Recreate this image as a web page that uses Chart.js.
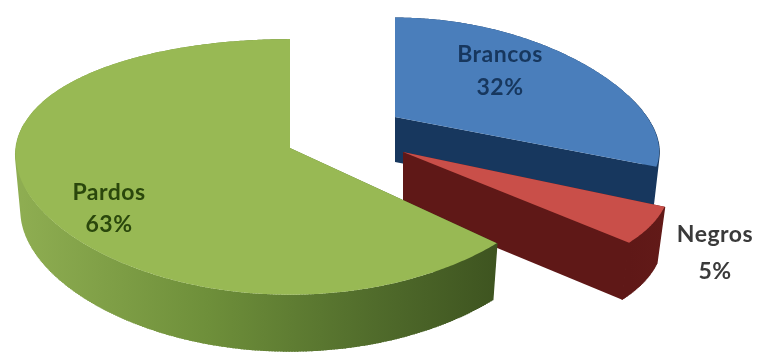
<!DOCTYPE html>
<html lang="pt">
<head>
<meta charset="utf-8">
<title>Pardos, Brancos e Negros</title>
<script src="https://cdn.jsdelivr.net/npm/chart.js@4"></script>
<style>
    html, body { margin: 0; padding: 0; background: #ffffff; }
    canvas { display: block; }
</style>
</head>
<body>
<canvas id="graficoPizza" width="758" height="354"></canvas>
<script>
// Valores do gráfico, na ordem em que as fatias saem das 12 horas
const categorias = ['Brancos', 'Negros', 'Pardos'];
const valores = [32, 5, 63];

// Cores das faces de cima e das laterais
const coresTopo = ['#4a7ebb', '#c94f49', '#98b954'];
const coresLado = [
    [[0, '#17375e'], [1, '#17375e']],
    [[0, '#5f1817'], [1, '#621a18']],
    [[0, '#8fae52'], [0.4, '#6e8f3a'], [0.75, '#506b2b'], [1, '#3e5420']]
];
const coresTexto = ['#17375e', '#3a3a3a', '#2a470c'];

// Explosão e perspectiva de cada fatia: ponta, raios, inclinação, espessura e
// quanto a base encolhe em relação ao topo
const fatias3d = [
    { x: 395, y: 117, rx: 252, ry: 111, kx: 0.3, ky: 0.116, fundo: 45, base: 0.98 },
    { x: 403, y: 152, rx: 260, ry: 123, kx: 0.236, ky: 0.104, fundo: 57, base: 0.97 },
    { x: 290, y: 148, rx: 274, ry: 125, kx: 0.05, ky: 0.148, fundo: 57, base: 0.98 }
];

// Centro dos rótulos (nome na primeira linha, valor na segunda)
const rotulos = [
    { x: 500, y: 55, passo: 33 },
    { x: 715, y: 235, passo: 37 },
    { x: 109, y: 193, passo: 32 }
];

// Passa um ponto do círculo unitário para a tela, com perspectiva
function projetar(f, angulo, raio) {
    const u = Math.sin(angulo) * raio;
    const v = -Math.cos(angulo) * raio;
    return {
        x: f.x + f.rx * u / (1 - f.kx * v),
        y: f.y + f.ry * v / (1 - f.ky * v),
        frente: v > -0.2
    };
}

function desenharFatia(ctx, arco, i) {
    const f = fatias3d[i];
    const inicio = arco.startAngle + Math.PI / 2;
    const fim = arco.endAngle + Math.PI / 2;
    const passos = Math.ceil((fim - inicio) / 0.01);
    const borda = [];
    for (let p = 0; p <= passos; p++) {
        borda.push(projetar(f, inicio + (fim - inicio) * p / passos, 1));
    }
    const ponta = projetar(f, 0, 0);
    const xBase = x => f.x + (x - f.x) * f.base;

    // Gradiente horizontal das laterais
    const xs = borda.map(b => b.x);
    const grad = ctx.createLinearGradient(Math.min(...xs), 0, Math.max(...xs), 0);
    coresLado[i].forEach(([pos, cor]) => grad.addColorStop(pos, cor));
    ctx.fillStyle = grad;
    ctx.strokeStyle = grad;
    ctx.lineWidth = 1.5;

    // Cortes retos
    [borda[0], borda[borda.length - 1]].forEach(b => {
        ctx.beginPath();
        ctx.moveTo(ponta.x, ponta.y);
        ctx.lineTo(b.x, b.y);
        ctx.lineTo(xBase(b.x), b.y + f.fundo);
        ctx.lineTo(ponta.x, ponta.y + f.fundo);
        ctx.closePath();
        ctx.fill();
    });

    // Parede externa
    ctx.beginPath();
    borda.forEach((b, n) => n ? ctx.lineTo(b.x, b.y) : ctx.moveTo(b.x, b.y));
    for (let n = borda.length - 1; n >= 0; n--) {
        ctx.lineTo(xBase(borda[n].x), borda[n].y + f.fundo);
    }
    ctx.closePath();
    ctx.fill();

    // Geratrizes da parte da frente, para fechar a silhueta onde a base recua
    ctx.beginPath();
    borda.filter(b => b.frente).forEach(b => {
        ctx.moveTo(b.x, b.y);
        ctx.lineTo(xBase(b.x), b.y + f.fundo);
    });
    ctx.stroke();

    // Face de cima
    ctx.beginPath();
    ctx.moveTo(ponta.x, ponta.y);
    borda.forEach(b => ctx.lineTo(b.x, b.y));
    ctx.closePath();
    ctx.fillStyle = coresTopo[i];
    ctx.fill();
}

const pizza3d = {
    id: 'pizza3d',
    beforeDatasetsDraw(chart) {
        const ctx = chart.ctx;
        const arcos = chart.getDatasetMeta(0).data;
        ctx.save();
        arcos.forEach((arco, i) => desenharFatia(ctx, arco, i));

        ctx.font = 'bold 23px Lato, "Open Sans", sans-serif';
        ctx.letterSpacing = '0.5px';
        ctx.textAlign = 'center';
        ctx.textBaseline = 'middle';
        categorias.forEach((nome, i) => {
            const r = rotulos[i];
            ctx.fillStyle = coresTexto[i];
            ctx.fillText(nome, r.x, r.y);
            ctx.fillText(valores[i] + '%', r.x, r.y + r.passo);
        });
        ctx.restore();
        return false; // as fatias já foram pintadas aqui
    }
};

new Chart(document.getElementById('graficoPizza'), {
    type: 'pie',
    data: {
        labels: categorias,
        datasets: [{ data: valores, backgroundColor: coresTopo, borderWidth: 0 }]
    },
    options: {
        responsive: false,
        animation: false,
        plugins: {
            legend: { display: false },
            tooltip: { enabled: false }
        }
    },
    plugins: [pizza3d]
});
</script>
</body>
</html>
